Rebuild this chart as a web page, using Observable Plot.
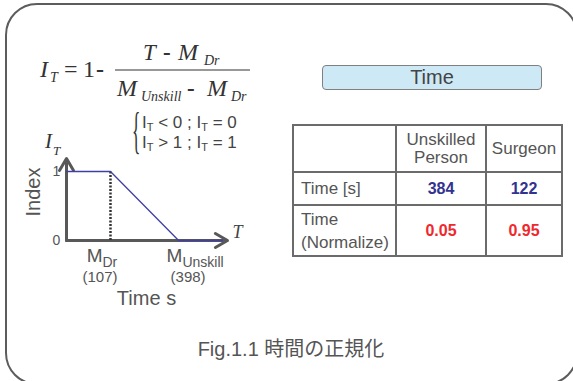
<!DOCTYPE html>
<html><head><meta charset="utf-8">
<script src="https://cdn.jsdelivr.net/npm/d3@7"></script>
<script src="https://cdn.jsdelivr.net/npm/@observablehq/plot@0.6"></script>
<style>
html,body{margin:0;padding:0;background:#fff;}
#slide{position:relative;width:573px;height:381px;overflow:hidden;background:#fff;font-family:"Liberation Sans",Arial,sans-serif;color:#555;}
#frame{position:absolute;left:5px;top:3px;width:573px;height:382px;box-sizing:border-box;border:2.5px solid #5c5c5c;border-radius:32px;}
#formula{position:absolute;left:0;top:0;}
#chart{position:absolute;left:0;top:140px;}
.lbl{position:absolute;white-space:nowrap;line-height:1.15;transform:translateX(-50%);color:#555;}
.lbl sub{position:relative;top:5px;vertical-align:baseline;font-size:14px;}
#timebox{position:absolute;left:322px;top:65px;width:220px;height:25px;box-sizing:border-box;background:#cde9f5;border:1.5px solid #808080;border-radius:4px;font-size:20px;line-height:22px;text-align:center;color:#444;}
#tbl{position:absolute;left:292px;top:124px;border-collapse:collapse;table-layout:fixed;width:271px;font-size:17px;color:#555;}
#tbl td{border:2px solid #6b6b6b;padding:0;text-align:center;vertical-align:middle;line-height:18px;}
#tbl td.rh{text-align:left;padding-left:7px;}
#tbl td.v{font-weight:bold;font-size:16px;}
#tbl td.blue{color:#33338f;}
#tbl td.red{color:#f0282d;}
#caption{position:absolute;left:0;top:336px;width:582px;text-align:center;font-family:"Liberation Sans","Noto Sans CJK JP",sans-serif;font-size:20px;line-height:24px;color:#555;}
#caption .ja{font-family:"Noto Sans CJK JP",sans-serif;}
</style>
</head><body>
<div id="slide">
<div id="frame"></div>
<svg id="formula" width="290" height="170">
<g font-family="Liberation Serif, Times New Roman, serif" fill="#333">
 <text x="40" y="77" font-size="24" font-style="italic">I</text>
 <text x="50" y="82" font-size="14" font-style="italic">T</text>
 <text x="64" y="77" font-size="24">=</text>
 <text x="83" y="77" font-size="24">1</text>
 <text x="96" y="77" font-size="24" font-weight="bold">-</text>
 <line x1="115" x2="250" y1="70" y2="70" stroke="#333" stroke-width="1.2"></line>
 <text x="143" y="60" font-size="23" font-style="italic">T</text>
 <text x="163" y="60" font-size="23" font-weight="bold">-</text>
 <text x="178" y="60" font-size="24" font-style="italic">M</text>
 <text x="204" y="65" font-size="14" font-style="italic">Dr</text>
 <text x="117" y="96" font-size="24" font-style="italic">M</text>
 <text x="141" y="101" font-size="14" font-style="italic">Unskill</text>
 <text x="187" y="96" font-size="23" font-weight="bold">-</text>
 <text x="207" y="96" font-size="24" font-style="italic">M</text>
 <text x="231" y="101" font-size="14" font-style="italic">Dr</text>
 <text x="45" y="148" font-size="21" font-style="italic">I</text>
 <text x="53" y="155" font-size="13" font-style="italic">T</text>
 <text transform="translate(132,147) scale(0.35,1)" font-size="50">{</text>
</g>
<g font-family="Liberation Sans, Arial, sans-serif" fill="#444" font-size="17">
 <text x="142" y="128">I<tspan font-size="11" dy="3">T</tspan><tspan dy="-3"> &lt; 0 ; I</tspan><tspan font-size="11" dy="3">T</tspan><tspan dy="-3"> = 0</tspan></text>
 <text x="142" y="148">I<tspan font-size="11" dy="3">T</tspan><tspan dy="-3"> &gt; 1 ; I</tspan><tspan font-size="11" dy="3">T</tspan><tspan dy="-3"> = 1</tspan></text>
</g>
</svg>
<div id="chart"></div>
<div id="timebox">Time</div>
<table id="tbl"></table>
<div id="caption">Fig.1.1 <span class="ja">時間の正規化</span></div>
</div>
<script>
// ---- data ----
const timeKnots = [-81, 107, 398, 585];   // T (s) at the corners of the index curve
const indexValues = [1, 1, 0, 0];          // normalized index I_T
const mDr = 107;                            // surgeon mean time (s)
const mUnskill = 398;                       // unskilled mean time (s)
const axisStart = -81, axisEnd = 607, yArrowTop = 1.19;
const indexTicks = [0, 1];
const tableTitle = "Time";
const groups = ["Unskilled\nPerson", "Surgeon"];
const rowLabels = ["Time [s]", "Time\n(Normalize)"];
const timeSeconds = [384, 122];
const timeNormalized = [0.05, 0.95];

// ---- chart ----
const curve = timeKnots.map((t, i) => ({t, v: indexValues[i]}));
const plot = Plot.plot({
  width: 260, height: 110,
  marginLeft: 66, marginRight: 33, marginTop: 31, marginBottom: 10,
  x: {domain: [axisStart, axisEnd], axis: null},
  y: {domain: [0, 1], axis: null},
  style: {background: "transparent", overflow: "visible", fontFamily: "Liberation Sans, Arial, sans-serif", color: "#555"},
  marks: [
    Plot.arrow([{x1: axisStart, y1: 0, x2: axisStart, y2: yArrowTop}], {x1: "x1", y1: "y1", x2: "x2", y2: "y2", stroke: "#585858", strokeWidth: 3, headLength: 7}),
    Plot.arrow([{x1: axisStart, y1: 0, x2: axisEnd, y2: 0}], {x1: "x1", y1: "y1", x2: "x2", y2: "y2", stroke: "#585858", strokeWidth: 3, headLength: 7}),
    Plot.ruleX([mDr], {y1: 0, y2: 1, stroke: "#333", strokeWidth: 2.5, strokeDasharray: "2,1.5"}),
    Plot.line(curve, {x: "t", y: "v", stroke: "#3f3fa5", strokeWidth: 1.3}),
    Plot.text(indexTicks, {x: axisStart, y: d => d, text: d => String(d), dx: -10, fontSize: 14, fill: "#555"}),
    Plot.text(["Index"], {x: axisStart, y: 0.5, text: d => d, dx: -33, dy: -14, rotate: -90, fontSize: 20, fill: "#555"}),
    Plot.text(["T"], {x: axisEnd, y: 0, text: d => d, dx: 10, dy: -8, fontSize: 18, fontStyle: "italic", fontFamily: "Liberation Serif, serif", fill: "#444"})
  ]
});
document.getElementById("chart").appendChild(plot);

// labels under the time axis, placed with the plot's x scale
const sx = plot.scale("x");
const slide = document.getElementById("slide");
function addLabel(html, x, top, size) {
  const d = document.createElement("div");
  d.className = "lbl";
  d.style.left = x + "px";
  d.style.top = top + "px";
  d.style.fontSize = size + "px";
  d.innerHTML = html;
  slide.appendChild(d);
}
addLabel("M<sub>Dr</sub>", sx.apply(mDr) - 8, 244.5, 19);
addLabel("(" + mDr + ")", sx.apply(mDr) - 10, 268, 15);
addLabel("M<sub>Unskill</sub>", sx.apply(mUnskill) + 17, 244.5, 19);
addLabel("(" + mUnskill + ")", sx.apply(mUnskill) + 10, 268, 15);
addLabel("Time s", (sx.apply(axisStart) + sx.apply(axisEnd)) / 2, 286.5, 20);

// ---- table ----
document.getElementById("timebox").textContent = tableTitle;
const tbl = document.getElementById("tbl");
const br = s => s.replace("\n", "<br>");
tbl.innerHTML =
  `<colgroup><col style="width:103px"><col style="width:90px"><col style="width:76px"></colgroup>` +
  `<tr style="height:47px"><td></td>${groups.map(g => `<td>${br(g)}</td>`).join("")}</tr>` +
  `<tr style="height:33px"><td class="rh">${br(rowLabels[0])}</td>${timeSeconds.map(v => `<td class="v blue">${v}</td>`).join("")}</tr>` +
  `<tr style="height:51px"><td class="rh" style="line-height:23px">${br(rowLabels[1])}</td>${timeNormalized.map(v => `<td class="v red">${v.toFixed(2)}</td>`).join("")}</tr>`;
</script>
</body></html>
